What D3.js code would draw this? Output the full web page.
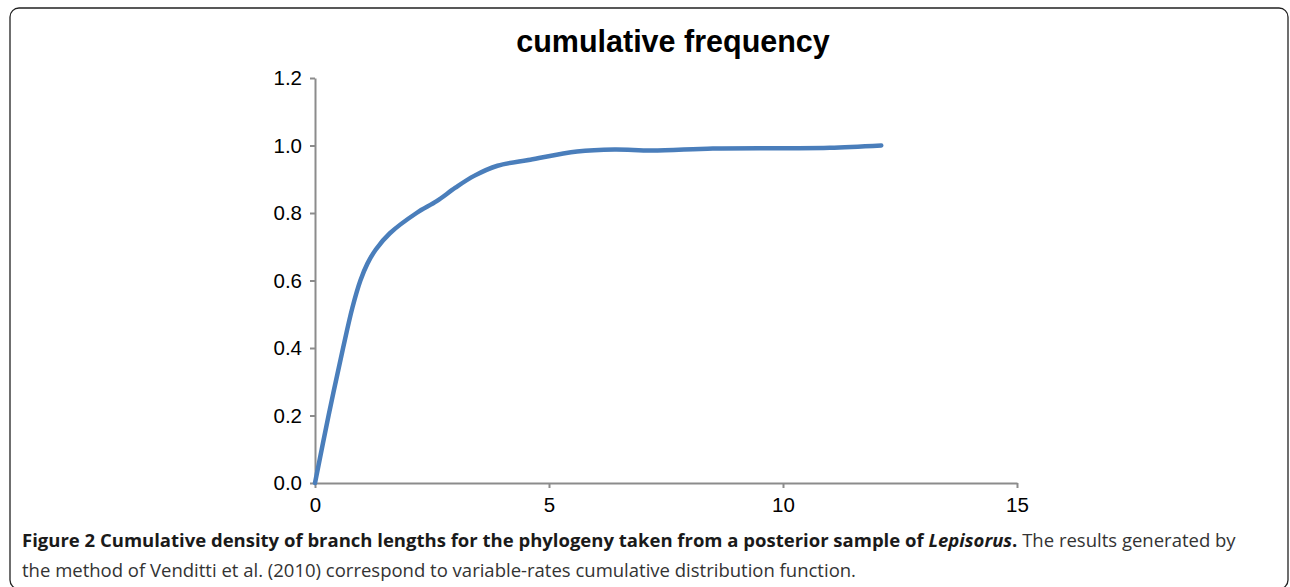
<!DOCTYPE html>
<html><head><meta charset="utf-8">
<script src="https://cdn.jsdelivr.net/npm/d3@7"></script>
<style>
html,body{margin:0;padding:0;background:#fff;}
svg{display:block;}
</style></head>
<body>
<svg id="chart" width="1290" height="587"></svg>
<script>
const title = "cumulative frequency";
const branchLength = [0, 0.29, 0.6, 0.8, 0.97, 1.12, 1.3, 1.6, 2.17, 2.6, 3.0, 3.4, 3.9, 4.6, 5.6, 6.4, 7.2, 8.5, 10, 11, 12.1];
const cumFreq      = [0, 0.2, 0.4, 0.52, 0.6, 0.65, 0.692, 0.74, 0.8, 0.835, 0.875, 0.91, 0.94, 0.958, 0.982, 0.988, 0.985, 0.991, 0.992, 0.993, 1.0];
const xTicks = [0, 5, 10, 15];
const yTicks = [0, 0.2, 0.4, 0.6, 0.8, 1.0, 1.2];

const svg = d3.select("#chart");
// frame
svg.append("rect").attr("x",10).attr("y",8).attr("width",1278).attr("height",581)
  .attr("rx",9).attr("fill","none").attr("stroke","#222").attr("stroke-width",1.3);

const x = d3.scaleLinear().domain([0,15]).range([315,1017]);
const y = d3.scaleLinear().domain([0,1.2]).range([483,78]);

svg.append("text").attr("x",673).attr("y",52).attr("text-anchor","middle")
  .attr("font-family","Liberation Sans, Arial, sans-serif").attr("font-weight","bold")
  .attr("font-size",30.5).attr("fill","#000").text(title);

const axisColor = "#8c8c8c";
const gy = svg.append("g").attr("transform","translate(315,0)")
  .call(d3.axisLeft(y).tickValues(yTicks).tickFormat(d3.format(".1f")).tickSizeInner(5).tickSizeOuter(0).tickPadding(8));
const gx = svg.append("g").attr("transform","translate(0,483)")
  .call(d3.axisBottom(x).tickValues(xTicks).tickFormat(d3.format("d")).tickSizeInner(5).tickSizeOuter(0).tickPadding(9));
[gx,gy].forEach(g=>{
  g.select(".domain").attr("stroke",axisColor).attr("stroke-width",2);
  g.selectAll(".tick line").attr("stroke",axisColor).attr("stroke-width",2);
  g.selectAll(".tick text").attr("font-family","Liberation Sans, Arial, sans-serif").attr("font-size",20.5).attr("fill","#000");
});

const pts = branchLength.map((d,i)=>[d,cumFreq[i]]);
svg.append("path").datum(pts)
  .attr("d", d3.line().x(d=>x(d[0])).y(d=>y(d[1])).curve(d3.curveCatmullRom.alpha(0.5)))
  .attr("fill","none").attr("stroke","#4a7ebb").attr("stroke-width",4.5).attr("stroke-linecap","round");

// caption
const cap = svg.append("g").attr("font-family","Open Sans, sans-serif").attr("font-size",18.5);
const l1 = cap.append("text").attr("x",22).attr("y",547).attr("fill","#1a1a1a");
l1.append("tspan").attr("font-weight","bold").text("Figure 2 Cumulative density of branch lengths for the phylogeny taken from a posterior sample of ");
l1.append("tspan").attr("font-weight","bold").attr("font-style","italic").text("Lepisorus");
l1.append("tspan").attr("font-weight","bold").text(".");
l1.append("tspan").attr("fill","#333").text(" The results generated by");
cap.append("text").attr("x",22).attr("y",577).attr("fill","#333")
  .text("the method of Venditti et al. (2010) correspond to variable-rates cumulative distribution function.");
</script>
</body></html>
